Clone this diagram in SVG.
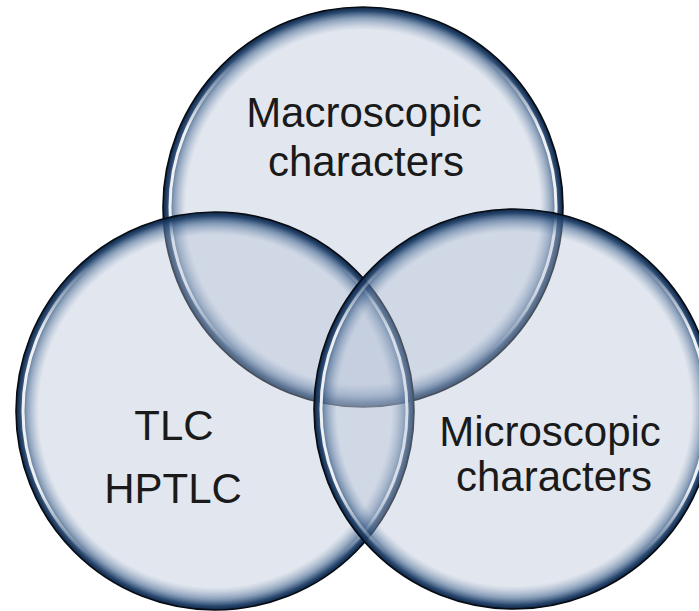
<svg xmlns="http://www.w3.org/2000/svg" width="699" height="611" viewBox="0 0 699 611">
  <defs>
    <!-- translucent bubble body with a dark navy rim -->
    <radialGradient id="bubble" cx="0.5" cy="0.5" r="0.5">
      <stop offset="0" stop-color="#b3c0d5" stop-opacity="0.38"/>
      <stop offset="0.885" stop-color="#b3c0d5" stop-opacity="0.38"/>
      <stop offset="0.945" stop-color="#4a6b94" stop-opacity="0.65"/>
      <stop offset="0.98" stop-color="#1d3d66" stop-opacity="0.95"/>
      <stop offset="1" stop-color="#0d2442" stop-opacity="1"/>
    </radialGradient>
    <!-- glossy highlight along the sides of each bubble -->
    <linearGradient id="shine" x1="0" y1="0" x2="0" y2="1">
      <stop offset="0.12" stop-color="#ffffff" stop-opacity="0"/>
      <stop offset="0.3" stop-color="#ffffff" stop-opacity="0.9"/>
      <stop offset="0.7" stop-color="#ffffff" stop-opacity="0.9"/>
      <stop offset="0.88" stop-color="#ffffff" stop-opacity="0"/>
    </linearGradient>
    <filter id="soft" x="-5%" y="-5%" width="110%" height="110%">
      <feGaussianBlur stdDeviation="0.7"/>
    </filter>
  </defs>
  <style>
    .body { fill: url(#bubble); stroke: #070c14; stroke-width: 1.6; }
    .gloss { fill: none; stroke: url(#shine); stroke-width: 3; filter: url(#soft); }
    .label { font-family: "Liberation Sans", Arial, sans-serif; font-size: 42px; fill: #1a1a1a; text-anchor: middle; }
  </style>

  <rect width="699" height="611" fill="#ffffff"/>

  <g id="macroscopic">
    <circle class="body" cx="363" cy="207" r="200"/>
    <circle class="gloss" cx="363" cy="207" r="193"/>
    <text class="label" x="364" y="127">Macroscopic</text>
    <text class="label" x="366" y="176">characters</text>
  </g>

  <g id="tlc">
    <circle class="body" cx="215" cy="411" r="199"/>
    <circle class="gloss" cx="215" cy="411" r="192"/>
    <text class="label" x="174" y="440">TLC</text>
    <text class="label" x="173" y="503">HPTLC</text>
  </g>

  <g id="microscopic">
    <circle class="body" cx="514" cy="409" r="200"/>
    <circle class="gloss" cx="514" cy="409" r="193"/>
    <text class="label" x="550" y="446">Microscopic</text>
    <text class="label" x="554" y="491">characters</text>
  </g>
</svg>
